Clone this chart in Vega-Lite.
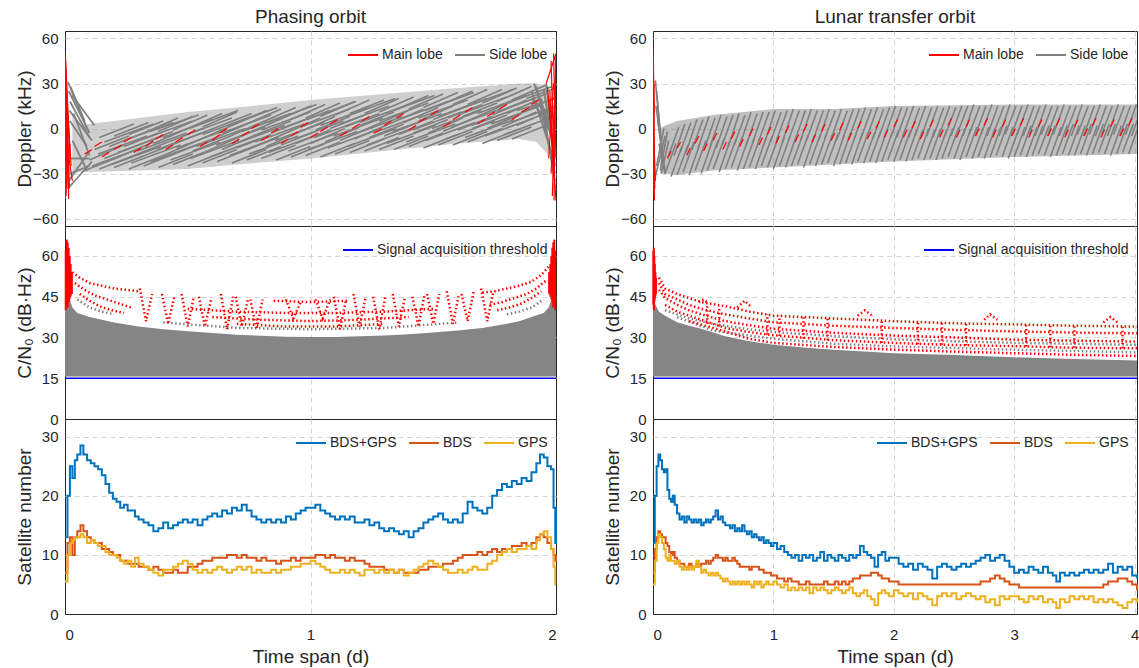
{
"$schema": "https://vega.github.io/schema/vega-lite/v6.json",
"padding": {"left": 14, "top": 7, "right": 0, "bottom": 0},
"config": {
  "font": "Liberation Sans",
  "view": {"stroke": "#262626", "strokeWidth": 1},
  "scale": {"continuousPadding": 0},
  "axis": {"grid": true, "gridColor": "#d4d4d4", "gridDash": [5, 4], "gridWidth": 1, "domain": false, "ticks": false, "labelFontSize": 15, "labelColor": "#262626", "titleFontSize": 19, "titleFontWeight": "normal", "titleColor": "#262626"},
  "axisY": {"labelPadding": 7, "titleX": -31},
  "axisX": {"labelPadding": 13, "titleY": 33, "format": "d"},
  "legend": {"orient": "top-right", "direction": "horizontal", "labelFontSize": 14, "labelColor": "#262626", "labelLimit": 300, "symbolType": "stroke", "symbolStrokeWidth": 2, "symbolSize": 900, "labelOffset": 3, "columnPadding": 8, "padding": 0, "offset": 8},
  "title": {"fontSize": 19, "fontWeight": "normal", "color": "#262626"}
},
"spacing": 41,
"resolve": {"scale": {"color": "independent"}, "legend": {"color": "independent"}},
"hconcat": [
 {
  "spacing": 0,
  "bounds": "flush",
  "resolve": {"scale": {"color": "independent"}, "legend": {"color": "independent"}},
  "vconcat": [
   {
    "width": 491, "height": 195,
    "title": {"text": "Phasing orbit", "frame": "group", "offset": 4},
    "encoding": {
      "x": {"field": "t", "type": "quantitative", "scale": {"domain": [0, 2], "nice": false, "padding": 0}, "axis": {"values": [0, 1, 2], "labels": false, "title": null, "gridOpacity": {"condition": {"test": "datum.value == 0 || datum.value == 2", "value": 0}, "value": 1}}},
      "y": {"field": "d", "type": "quantitative", "scale": {"domain": [-65, 65], "nice": false, "padding": 0}, "axis": {"values": [-60, -30, 0, 30, 60], "title": "Doppler (kHz)"}}
    },
    "layer": [
     {
      "data": {"values": "t,d,e\n0.03,-31,10\n0.06,-29,2\n0.1,-29,3\n0.3,-28,7\n0.5,-27,11\n0.7,-24,14\n1.0,-20,19\n1.3,-15,23\n1.6,-10,27\n1.85,-7,30\n1.92,-9,30\n1.97,-18,28", "format": {"type": "csv", "parse": {"t": "number", "d": "number", "e": "number"}}},
      "mark": {"type": "area", "color": "#808080", "opacity": 0.38},
      "encoding": {"y2": {"field": "e"}}
     },
     {
      "data": {"values": "t,u,d,e\n0.08,0.22,-28,-19\n0.10,0.24,-21,-11\n0.12,0.26,-14,-5\n0.14,0.28,-6,3\n0.14,0.28,-27,-18\n0.16,0.30,-20,-11\n0.18,0.32,-12,-3\n0.20,0.34,-5,4\n0.20,0.34,-26,-17\n0.22,0.36,-19,-9\n0.24,0.38,-12,-3\n0.26,0.40,-4,5\n0.26,0.40,-27,-18\n0.28,0.42,-18,-9\n0.30,0.44,-11,-2\n0.32,0.46,-3,7\n0.32,0.46,-25,-16\n0.34,0.48,-17,-8\n0.36,0.50,-10,0\n0.38,0.52,-2,8\n0.38,0.52,-26,-17\n0.40,0.54,-18,-8\n0.42,0.56,-9,0\n0.44,0.58,-1,9\n0.44,0.58,-24,-15\n0.46,0.60,-16,-7\n0.48,0.62,-8,1\n0.50,0.64,0,10\n0.50,0.64,-25,-16\n0.52,0.66,-15,-6\n0.54,0.68,-8,2\n0.56,0.70,1,11\n0.56,0.70,-23,-14\n0.58,0.72,-15,-5\n0.60,0.74,-7,3\n0.62,0.76,1,10\n0.62,0.76,-22,-13\n0.64,0.78,-14,-4\n0.66,0.80,-6,4\n0.68,0.82,2,12\n0.68,0.82,-23,-14\n0.70,0.84,-13,-4\n0.72,0.86,-5,5\n0.74,0.88,3,13\n0.74,0.88,-21,-12\n0.76,0.90,-13,-3\n0.78,0.92,-4,5\n0.80,0.94,4,14\n0.80,0.94,-20,-11\n0.82,0.96,-12,-2\n0.84,0.98,-3,6\n0.86,1.00,5,15\n0.86,1.00,-21,-12\n0.88,1.02,-11,-2\n0.90,1.04,-3,7\n0.92,1.06,6,16\n0.92,1.06,-19,-10\n0.94,1.08,-10,-1\n0.96,1.10,-2,8\n0.98,1.12,7,17\n0.98,1.12,-18,-9\n1.00,1.14,-10,0\n1.02,1.16,-1,8\n1.04,1.18,8,18\n1.04,1.18,-19,-10\n1.06,1.20,-9,1\n1.08,1.22,0,9\n1.10,1.24,9,19\n1.10,1.24,-17,-8\n1.12,1.26,-8,2\n1.14,1.28,1,10\n1.16,1.30,10,19\n1.16,1.30,-16,-7\n1.18,1.32,-7,3\n1.20,1.34,2,11\n1.22,1.36,10,20\n1.22,1.36,-15,-6\n1.24,1.38,-6,3\n1.26,1.40,2,12\n1.28,1.42,11,21\n1.28,1.42,-14,-5\n1.30,1.44,-5,4\n1.32,1.46,3,13\n1.34,1.48,12,22\n1.34,1.48,-14,-5\n1.36,1.50,-4,5\n1.38,1.52,4,14\n1.40,1.54,13,23\n1.40,1.54,-12,-3\n1.42,1.56,-3,6\n1.44,1.58,5,15\n1.46,1.60,14,24\n1.46,1.60,-13,-4\n1.48,1.62,-3,7\n1.50,1.64,6,15\n1.52,1.66,15,25\n1.52,1.66,-11,-2\n1.54,1.68,-2,8\n1.56,1.70,7,16\n1.58,1.72,16,26\n1.58,1.72,-11,-2\n1.60,1.74,-1,8\n1.62,1.76,8,17\n1.64,1.78,16,26\n1.64,1.78,-9,0\n1.66,1.80,0,9\n1.68,1.82,8,18\n1.70,1.84,17,27\n1.70,1.84,-10,-1\n1.72,1.86,0,10\n1.74,1.88,9,19\n1.76,1.90,18,28\n1.76,1.90,-8,1\n1.78,1.92,1,11\n1.80,1.94,10,20\n1.82,1.96,19,29\n1.82,1.96,-7,2\n1.84,1.98,2,12\n1.86,2.00,11,21\n1.88,2.00,20,27\n0.11,0.31,-25,-13\n0.135,0.335,-17,-5\n0.16,0.36,-9,3\n0.19,0.39,-24,-12\n0.215,0.415,-16,-4\n0.24,0.44,-8,4\n0.27,0.47,-23,-11\n0.295,0.495,-15,-3\n0.32,0.52,-7,5\n0.345,0.545,-2,9\n0.35,0.55,-22,-10\n0.375,0.575,-14,-2\n0.40,0.60,-6,6\n0.43,0.63,-21,-9\n0.455,0.655,-13,-1\n0.48,0.68,-5,7\n0.505,0.705,0,12\n0.51,0.71,-20,-8\n0.535,0.735,-12,0\n0.56,0.76,-4,8\n0.59,0.79,-19,-7\n0.615,0.815,-11,1\n0.64,0.84,-3,9\n0.665,0.865,2,14\n0.67,0.87,-18,-6\n0.695,0.895,-10,2\n0.72,0.92,-2,10\n0.75,0.95,-17,-5\n0.775,0.975,-9,3\n0.80,1.00,-1,11\n0.825,1.025,4,16\n0.83,1.03,-16,-4\n0.855,1.055,-8,4\n0.88,1.08,0,12\n0.91,1.11,-15,-3\n0.935,1.135,-7,5\n0.96,1.16,1,13\n0.985,1.185,6,18\n0.99,1.19,-14,-2\n1.015,1.215,-6,6\n1.04,1.24,2,14\n1.07,1.27,-13,-1\n1.095,1.295,-5,7\n1.12,1.32,3,15\n1.145,1.345,8,20\n1.15,1.35,-12,0\n1.175,1.375,-4,8\n1.20,1.40,4,16\n1.23,1.43,-11,1\n1.255,1.455,-3,9\n1.28,1.48,5,17\n1.305,1.505,10,22\n1.31,1.51,-10,2\n1.335,1.535,-2,10\n1.36,1.56,6,18\n1.39,1.59,-9,3\n1.415,1.615,-1,11\n1.44,1.64,7,19\n1.465,1.665,12,24\n1.47,1.67,-8,4\n1.495,1.695,0,12\n1.52,1.72,8,20\n1.55,1.75,-7,5\n1.575,1.775,1,13\n1.60,1.80,9,21\n1.625,1.825,14,26\n1.63,1.83,-6,6\n1.655,1.855,2,14\n1.68,1.88,10,22\n1.71,1.91,-5,7\n1.735,1.935,3,15\n1.76,1.96,11,23\n1.785,1.985,16,28\n1.79,1.99,-4,8\n1.815,2.0,4,15\n1.84,2.0,12,20\n0.012,0.09,31,0\n0.015,0.10,25,-3\n0.02,0.10,18,-6\n0.018,0.11,12,-8\n0.02,0.09,5,-12\n0.015,0.10,-35,-15\n0.012,0.11,-40,-22\n0.02,0.10,-30,-25\n0.025,0.10,-20,-20\n0.03,0.12,22,2\n0.022,0.08,28,5\n0.03,0.09,-8,-28\n0.035,0.10,10,-18\n1.90,1.99,25,-20\n1.92,1.995,28,-30\n1.93,1.99,22,-10\n1.91,1.98,30,0\n1.94,1.995,20,-35\n1.95,1.99,26,-15\n1.90,1.97,20,10\n1.96,1.995,30,-25\n1.92,1.985,15,-5", "format": {"type": "csv", "parse": {"t": "number", "u": "number", "d": "number", "e": "number"}}},
      "mark": {"type": "rule", "strokeWidth": 1.8, "clip": true},
      "encoding": {"x2": {"field": "u"}, "y2": {"field": "e"}, "color": {"datum": "Side lobe", "type": "nominal", "scale": {"domain": ["Main lobe", "Side lobe"], "range": ["#ff0000", "#808080"]}, "legend": {"title": null}}}
     },
     {
      "data": {"values": "t,u,d,e\n0.000,0.004,50,-45\n0.002,0.008,48,-40\n0.004,0.012,40,-30\n0.006,0.015,30,-47\n0.008,0.018,20,-40\n0.002,0.02,-45,-10\n0.01,0.025,10,-25\n0.003,0.01,45,0\n0.012,0.03,-15,-35\n0.005,0.022,35,-20\n0.001,0.006,-47,30\n1.96,2.0,30,50\n1.97,2.0,20,-48\n1.98,1.995,45,-40\n1.985,2.0,-45,35\n1.975,1.99,25,-30\n1.99,2.0,50,-20\n1.965,1.985,28,-10\n1.98,2.0,-30,40\n1.992,1.999,-48,48\n1.97,1.99,-20,30\n0.08,0.11,-17,-14\n0.12,0.15,-12,-9\n0.15,0.18,-19,-16\n0.2,0.23,-14,-11\n0.24,0.27,-9,-6\n0.28,0.31,-16,-13\n0.33,0.36,-12,-8\n0.37,0.4,-7,-4\n0.41,0.44,-14,-11\n0.45,0.48,-9,-6\n0.5,0.53,-4,-1\n0.55,0.58,-12,-9\n0.6,0.63,-8,-4\n0.63,0.66,-3,0\n0.68,0.71,-10,-7\n0.72,0.75,-5,-2\n0.76,0.79,0,3\n0.8,0.83,-8,-5\n0.84,0.87,-3,0\n0.88,0.91,-10,-7\n0.92,0.95,-5,-2\n0.96,0.99,1,4\n1.0,1.03,-6,-3\n1.04,1.07,-2,1\n1.08,1.11,3,6\n1.12,1.15,-5,-2\n1.17,1.2,0,3\n1.21,1.24,5,8\n1.26,1.29,-3,0\n1.3,1.33,2,5\n1.35,1.38,7,10\n1.4,1.43,-1,2\n1.44,1.47,4,7\n1.49,1.52,9,12\n1.54,1.57,1,4\n1.58,1.61,6,9\n1.63,1.66,11,14\n1.68,1.71,3,6\n1.72,1.75,8,11\n1.77,1.8,13,16\n1.82,1.85,6,9\n1.86,1.89,11,14\n1.9,1.93,16,19", "format": {"type": "csv", "parse": {"t": "number", "u": "number", "d": "number", "e": "number"}}},
      "mark": {"type": "rule", "strokeWidth": 1.2, "clip": true},
      "encoding": {"x2": {"field": "u"}, "y2": {"field": "e"}, "color": {"datum": "Main lobe", "type": "nominal", "scale": {"domain": ["Main lobe", "Side lobe"], "range": ["#ff0000", "#808080"]}, "legend": {"title": null}}}
     }
    ]
   },
   {
    "width": 491, "height": 193,
    "encoding": {
      "x": {"field": "t", "type": "quantitative", "scale": {"domain": [0, 2], "nice": false, "padding": 0}, "axis": {"values": [0, 1, 2], "labels": false, "title": null, "gridOpacity": {"condition": {"test": "datum.value == 0 || datum.value == 2", "value": 0}, "value": 1}}},
      "y": {"field": "v", "type": "quantitative", "scale": {"domain": [0, 71], "nice": false, "padding": 0}, "axis": {"values": [0, 15, 30, 45, 60], "title": "C/N₀ (dB·Hz)", "gridOpacity": {"condition": {"test": "datum.value == 0", "value": 0}, "value": 1}}}
    },
    "layer": [
     {
      "data": {"values": "t,v\n0.000,40\n0.010,47\n0.020,44\n0.030,41\n0.050,39\n0.100,37.5\n0.150,36.5\n0.200,35.5\n0.300,34\n0.400,33\n0.500,32.3\n0.600,31.6\n0.700,31\n0.800,30.6\n0.900,30.3\n1.000,30.2\n1.100,30.2\n1.200,30.4\n1.300,30.7\n1.400,31.2\n1.500,31.8\n1.600,32.6\n1.700,33.5\n1.800,35\n1.850,36\n1.900,37.5\n1.950,39\n1.970,41\n1.985,45\n2.000,40", "format": {"type": "csv", "parse": {"t": "number", "v": "number"}}},
      "mark": {"type": "area", "color": "#858585"},
      "encoding": {"y2": {"datum": 15.6}}
     },
     {
      "data": {"values": "g,t,v\nG1,0.05,44\nG1,0.1,41\nG1,0.15,39.5\nG1,0.2,38.5\nG2,1.95,44\nG2,1.9,41\nG2,1.85,39.5\nG2,1.8,38.5\nG3,0.4,35.5\nG3,0.7,33.5\nG3,1.0,33\nG3,1.3,33.5\nG3,1.6,35.5", "format": {"type": "csv", "parse": {"t": "number", "v": "number"}}},
      "mark": {"type": "line", "color": "#808080", "strokeWidth": 2.5, "strokeDash": [1.5, 2.5]},
      "encoding": {"detail": {"field": "g"}}
     },
     {
      "data": {"values": "g,t,v\nA1,0.03,54\nA1,0.06,52\nA1,0.1,50\nA1,0.15,49\nA1,0.2,48\nA1,0.25,47.5\nA1,0.3,47\nA2,0.04,50\nA2,0.08,47.5\nA2,0.12,45.5\nA2,0.17,44\nA2,0.22,42.5\nA2,0.27,41\nA3,0.06,46\nA3,0.1,43.5\nA3,0.14,41.5\nA3,0.19,40\nA3,0.24,39\nB1,1.97,56\nB1,1.94,53\nB1,1.9,50.5\nB1,1.85,49\nB1,1.8,48\nB1,1.75,47\nB1,1.7,46.5\nB2,1.96,51\nB2,1.92,48\nB2,1.88,46\nB2,1.83,44.5\nB2,1.78,43\nB2,1.73,42\nB3,1.94,47\nB3,1.9,44.5\nB3,1.86,42.5\nB3,1.81,41\nB3,1.76,40\nH2,0.5,40.5\nH2,0.7,39.5\nH2,0.9,39\nH2,1.1,39\nH2,1.3,39.5\nH2,1.5,40.5\nH3,0.6,37.5\nH3,0.8,36.5\nH3,1.0,36\nH3,1.2,36.5\nH3,1.4,37.5\nH4,0.7,35\nH4,0.9,34\nH4,1.1,34\nH4,1.3,35\nH5,0.85,43.5\nH5,1.0,43\nH5,1.15,43.5\nV1,0.305,48\nV1,0.33,36\nV1,0.355,46\nV2,0.395,46\nV2,0.42,35\nV2,0.445,45\nV3,0.475,46\nV3,0.5,34\nV3,0.525,45\nV4,0.545,45\nV4,0.57,34\nV4,0.595,44\nV5,0.635,46\nV5,0.66,33\nV5,0.685,45\nV6,0.695,45\nV6,0.72,34\nV6,0.745,44\nV7,0.755,44\nV7,0.78,33\nV7,0.805,44\nV8,1.095,45\nV8,1.12,33\nV8,1.145,44\nV9,1.175,46\nV9,1.2,34\nV9,1.225,45\nV10,1.255,45\nV10,1.28,33\nV10,1.305,45\nV11,1.335,46\nV11,1.36,34\nV11,1.385,45\nV12,1.415,45\nV12,1.44,34\nV12,1.465,46\nV13,1.475,46\nV13,1.5,35\nV13,1.525,46\nV14,1.555,47\nV14,1.58,35\nV14,1.605,46\nV15,1.615,46\nV15,1.64,36\nV15,1.665,47\nV16,1.695,48\nV16,1.72,36\nV16,1.745,47\nV17,0.9,44\nV17,0.93,37\nV17,0.96,43\nV18,1.02,44\nV18,1.05,37\nV18,1.08,44", "format": {"type": "csv", "parse": {"t": "number", "v": "number"}}},
      "mark": {"type": "line", "color": "#ff0000", "strokeWidth": 2.5, "strokeDash": [1.5, 2.5]},
      "encoding": {"detail": {"field": "g"}}
     },
     {
      "data": {"values": "t,v,w\n0.003,40,62\n0.007,42,66\n0.011,41,65\n0.015,43,63\n0.019,44,60\n0.023,45,57\n0.028,46,54\n1.997,40,62\n1.993,42,66\n1.989,41,65\n1.985,43,63\n1.981,44,60\n1.977,45,57\n1.972,46,54", "format": {"type": "csv", "parse": {"t": "number", "v": "number", "w": "number"}}},
      "mark": {"type": "rule", "color": "#ff0000", "strokeWidth": 2},
      "encoding": {"y2": {"field": "w"}}
     },
     {
      "data": {"values": [{"t": 0, "u": 2, "v": 15}]},
      "mark": {"type": "rule", "strokeWidth": 1.5},
      "encoding": {"x2": {"field": "u"}, "color": {"datum": "Signal acquisition threshold", "type": "nominal", "scale": {"range": ["#0000ff"]}, "legend": {"title": null}}}
     }
    ]
   },
   {
    "width": 491, "height": 195,
    "data": {"values": "t,a,b,g\n0.000,13,7,5.5\n0.010,20,12,10\n0.020,25,13,12\n0.030,23,10,12.5\n0.040,26,13,13\n0.050,27,14,13\n0.063,28.5,15,13.5\n0.075,27,14,13\n0.090,26,13,12\n0.105,25.5,12.5,12.5\n0.120,25,12,12\n0.135,24.5,12,11.5\n0.150,23.5,11,11.5\n0.165,22,11,10.5\n0.180,20.5,10.5,10\n0.195,19.5,10,10\n0.210,19,10,9.5\n0.225,18,9,9\n0.240,18.5,9,8.5\n0.255,17.5,8.5,9\n0.270,17.5,8.5,8\n0.285,16.5,8.5,9.5\n0.300,16,8,8.5\n0.320,15.5,8,8\n0.340,15,7.5,7.5\n0.360,14,8,7\n0.380,14.5,7.5,6.5\n0.400,15.5,7,7.5\n0.420,14.5,7,7.5\n0.440,15,7.5,8\n0.460,15.5,7,8.5\n0.480,16,7,9\n0.500,15.5,8,8.5\n0.520,16,8,7.5\n0.540,15,8.5,7\n0.560,16,9,7.5\n0.580,16.5,9,7\n0.600,17,9.5,7.5\n0.620,16.5,9.5,8\n0.640,17.5,9.5,7.5\n0.660,17,10,7\n0.680,18,10,7.5\n0.700,17.5,9.5,8\n0.720,18.5,10,7.5\n0.740,17.5,9.5,8\n0.760,16.5,9.5,7\n0.780,16,9,7.5\n0.800,15.5,9.5,7\n0.820,16,9,7\n0.840,15.5,9,7.5\n0.860,16,8.5,7\n0.880,15.5,9,7.5\n0.900,16.5,9,7.5\n0.920,16,9.5,8\n0.940,17,9,8\n0.960,17.5,9.5,8.5\n0.980,18,9.5,8.5\n1.000,18,9.5,9\n1.020,18.5,10,8.5\n1.040,17.5,10,8\n1.060,17,9.5,7.5\n1.080,16.5,10,7\n1.100,16,9.5,7\n1.120,16.5,9.5,7.5\n1.140,16,9,7\n1.160,16.5,9.5,7.5\n1.180,15.5,9,7\n1.200,15.5,9,6.5\n1.220,16,8.5,7.5\n1.240,15,8,7.5\n1.260,15.5,8,7\n1.280,14.5,8,7.5\n1.300,14,7.5,7\n1.320,14.5,7.5,7.5\n1.340,14,7,7\n1.360,13.5,7.5,7.5\n1.380,14,7,6.5\n1.400,13,7,7\n1.420,14,7,7.5\n1.440,14.5,7.5,8\n1.460,15.5,7.5,8.5\n1.480,16,8,9\n1.500,16.5,8,8.5\n1.520,17,8,8\n1.540,16,8.5,7.5\n1.560,15.5,8.5,7\n1.580,16,9,7\n1.600,15.5,9.5,7.5\n1.620,17,10,7\n1.640,19,10,7.5\n1.660,18,10,8\n1.680,17.5,10.5,7.5\n1.700,17,10,7.5\n1.720,18,10.5,8.5\n1.740,20,11,9\n1.760,21,10.5,10\n1.780,22,11,10.5\n1.800,21.5,11,11\n1.820,22.5,11.5,10.5\n1.840,22,11.5,11\n1.860,23,12,11\n1.880,22.5,11.5,11.5\n1.900,24,12,11\n1.920,25.5,13,12.5\n1.935,27,13.5,13.5\n1.950,26.5,13,14\n1.965,25,12,13\n1.980,24.5,11,11\n1.990,18,10,8\n1.997,12,9,5\n2.000,18,10,5", "format": {"type": "csv", "parse": {"t": "number", "a": "number", "b": "number", "g": "number"}}},
    "transform": [{"fold": ["a", "b", "g"], "as": ["k", "v"]}],
    "mark": {"type": "line", "strokeWidth": 2, "interpolate": "step-after"},
    "encoding": {
      "x": {"field": "t", "type": "quantitative", "scale": {"domain": [0, 2], "nice": false, "padding": 0}, "axis": {"values": [0, 1, 2], "title": "Time span (d)", "gridOpacity": {"condition": {"test": "datum.value == 0 || datum.value == 2", "value": 0}, "value": 1}}},
      "y": {"field": "v", "type": "quantitative", "scale": {"domain": [0, 33], "nice": false, "padding": 0}, "axis": {"values": [0, 10, 20, 30], "title": "Satellite number", "gridOpacity": {"condition": {"test": "datum.value == 0", "value": 0}, "value": 1}}},
      "color": {"field": "k", "type": "nominal", "scale": {"domain": ["a", "b", "g"], "range": ["#0072bd", "#d95319", "#edb120"]}, "legend": {"title": null, "labelExpr": "datum.label == 'a' ? 'BDS+GPS' : datum.label == 'b' ? 'BDS' : 'GPS'"}}
    }
   }
  ]
 },
 {
  "spacing": 0,
  "bounds": "flush",
  "resolve": {"scale": {"color": "independent"}, "legend": {"color": "independent"}},
  "vconcat": [
   {
    "width": 484, "height": 195,
    "title": {"text": "Lunar transfer orbit", "frame": "group", "offset": 4},
    "encoding": {
      "x": {"field": "t", "type": "quantitative", "scale": {"domain": [0, 4.02], "nice": false, "padding": 0}, "axis": {"values": [0, 1, 2, 3, 4], "labels": false, "title": null, "gridOpacity": {"condition": {"test": "datum.value == 0", "value": 0}, "value": 1}}},
      "y": {"field": "d", "type": "quantitative", "scale": {"domain": [-65, 65], "nice": false, "padding": 0}, "axis": {"values": [-60, -30, 0, 30, 60], "title": "Doppler (kHz)"}}
    },
    "layer": [
     {
      "data": {"values": "t,d,e\n0.06,-30,0\n0.1,-30,2\n0.2,-31,5\n0.5,-28,9\n1.0,-26,13\n1.5,-24,13\n2.0,-22,15\n3.0,-19,16\n4.02,-17,16", "format": {"type": "csv", "parse": {"t": "number", "d": "number", "e": "number"}}},
      "mark": {"type": "area", "color": "#808080", "opacity": 0.5},
      "encoding": {"y2": {"field": "e"}}
     },
     {
      "data": {"values": "t,u,d,e\n0.02,0.06,32,-5\n0.03,0.07,25,-10\n0.025,0.08,15,-20\n0.04,0.1,5,-28\n0.02,0.1,-32,-5\n0.03,0.09,-25,0\n0.05,0.1,-10,-30\n0.06,0.12,-28,-2\n0.07,0.13,-30,-8\n0.10,0.19,-30,-10\n0.125,0.215,-19,1\n0.15,0.24,-32,-12\n0.175,0.265,-18,3\n0.20,0.29,-31,-11\n0.225,0.315,-16,4\n0.25,0.34,-29,-9\n0.275,0.365,-16,6\n0.30,0.39,-31,-10\n0.325,0.415,-14,6\n0.35,0.44,-28,-8\n0.375,0.465,-13,8\n0.40,0.49,-30,-9\n0.425,0.515,-14,7\n0.45,0.54,-28,-8\n0.475,0.565,-12,9\n0.50,0.59,-27,-7\n0.525,0.615,-13,8\n0.55,0.64,-29,-8\n0.575,0.665,-11,9\n0.60,0.69,-27,-7\n0.625,0.715,-12,10\n0.65,0.74,-26,-6\n0.675,0.765,-11,9\n0.70,0.79,-28,-7\n0.725,0.815,-10,11\n0.75,0.84,-27,-7\n0.775,0.865,-11,10\n0.80,0.89,-26,-6\n0.825,0.915,-10,11\n0.85,0.94,-27,-6\n0.875,0.965,-9,11\n0.90,0.99,-25,-5\n0.925,1.015,-10,12\n0.95,1.04,-26,-6\n0.975,1.065,-9,11\n1.00,1.09,-27,-6\n1.025,1.115,-8,12\n1.05,1.14,-25,-5\n1.075,1.165,-9,13\n1.10,1.19,-26,-5\n1.125,1.215,-8,12\n1.15,1.24,-25,-5\n1.175,1.265,-9,12\n1.20,1.29,-24,-4\n1.225,1.315,-8,13\n1.25,1.34,-26,-5\n1.275,1.365,-8,12\n1.30,1.39,-24,-4\n1.325,1.415,-9,12\n1.35,1.44,-25,-4\n1.375,1.465,-8,13\n1.40,1.49,-24,-4\n1.425,1.515,-7,12\n1.45,1.54,-23,-3\n1.475,1.565,-8,13\n1.50,1.59,-25,-4\n1.525,1.615,-8,12\n1.55,1.64,-24,-3\n1.575,1.665,-7,13\n1.60,1.69,-23,-3\n1.625,1.715,-7,13\n1.65,1.74,-24,-3\n1.675,1.765,-6,14\n1.70,1.79,-22,-2\n1.725,1.815,-7,13\n1.75,1.84,-23,-3\n1.775,1.865,-6,14\n1.80,1.89,-22,-2\n1.825,1.915,-7,13\n1.85,1.94,-23,-2\n1.875,1.965,-6,14\n1.90,1.99,-22,-2\n1.925,2.015,-5,15\n1.95,2.04,-21,-1\n1.975,2.065,-6,14\n2.00,2.09,-22,-2\n2.025,2.115,-6,14\n2.05,2.14,-21,-1\n2.075,2.165,-5,15\n2.10,2.19,-22,-1\n2.125,2.215,-6,14\n2.15,2.24,-21,-1\n2.175,2.265,-5,15\n2.20,2.29,-20,0\n2.225,2.315,-6,14\n2.25,2.34,-21,-1\n2.275,2.365,-5,15\n2.30,2.39,-20,0\n2.325,2.415,-6,14\n2.35,2.44,-21,-1\n2.375,2.465,-5,15\n2.40,2.49,-20,0\n2.425,2.515,-5,14\n2.45,2.54,-19,1\n2.475,2.565,-5,15\n2.50,2.59,-20,0\n2.525,2.615,-4,15\n2.55,2.64,-21,0\n2.575,2.665,-5,16\n2.60,2.69,-19,1\n2.625,2.715,-4,15\n2.65,2.74,-20,0\n2.675,2.765,-5,15\n2.70,2.79,-19,1\n2.725,2.815,-4,16\n2.75,2.84,-20,0\n2.775,2.865,-5,15\n2.80,2.89,-19,1\n2.825,2.915,-4,15\n2.85,2.94,-18,2\n2.875,2.965,-5,16\n2.90,2.99,-19,1\n2.925,3.015,-4,15\n2.95,3.04,-20,0\n2.975,3.065,-5,15\n3.00,3.09,-19,1\n3.025,3.115,-4,16\n3.05,3.14,-18,2\n3.075,3.165,-5,15\n3.10,3.19,-19,1\n3.125,3.215,-4,15\n3.15,3.24,-18,2\n3.175,3.265,-5,16\n3.20,3.29,-17,2\n3.225,3.315,-4,15\n3.25,3.34,-18,2\n3.275,3.365,-5,15\n3.30,3.39,-19,1\n3.325,3.415,-4,16\n3.35,3.44,-18,2\n3.375,3.465,-5,15\n3.40,3.49,-17,3\n3.425,3.515,-4,15\n3.45,3.54,-18,2\n3.475,3.565,-5,16\n3.50,3.59,-18,2\n3.525,3.615,-4,15\n3.55,3.64,-17,3\n3.575,3.665,-5,15\n3.60,3.69,-18,2\n3.625,3.715,-4,16\n3.65,3.74,-17,3\n3.675,3.765,-5,15\n3.70,3.79,-16,3\n3.725,3.815,-4,15\n3.75,3.84,-17,3\n3.775,3.865,-5,16\n3.80,3.89,-18,2\n3.825,3.915,-4,15\n3.85,3.94,-17,3\n3.875,3.965,-5,15\n3.90,3.99,-16,3\n3.925,4.015,-4,16\n3.95,4.04,-17,3\n3.975,4.065,-5,15", "format": {"type": "csv", "parse": {"t": "number", "u": "number", "d": "number", "e": "number"}}},
      "mark": {"type": "rule", "strokeWidth": 1.6, "clip": true},
      "encoding": {"x2": {"field": "u"}, "y2": {"field": "e"}, "color": {"datum": "Side lobe", "type": "nominal", "scale": {"domain": ["Main lobe", "Side lobe"], "range": ["#ff0000", "#808080"]}, "legend": {"title": null}}}
     },
     {
      "data": {"values": "t,u,d,e\n0.0,0.005,55,-20\n0.003,0.012,40,-48\n0.005,0.015,20,-40\n0.008,0.02,-10,-35\n0.002,0.01,50,10\n0.001,0.008,-45,30\n0.12,0.15,-20,-15\n0.2,0.23,-13,-9\n0.28,0.31,-18,-13\n0.35,0.38,-10,-5\n0.42,0.45,-15,-10\n0.5,0.53,-8,-3\n0.58,0.61,-14,-9\n0.65,0.68,-7,-2\n0.72,0.75,-12,-7\n0.8,0.83,-5,0\n0.88,0.91,-11,-6\n0.95,0.98,-4,1\n1.02,1.05,-10,-5\n1.1,1.13,-3,2\n1.18,1.21,-9,-4\n1.25,1.28,-2,3\n1.32,1.35,-9,-4\n1.4,1.43,-2,3\n1.48,1.51,-8,-3\n1.55,1.58,-1,4\n1.62,1.65,-8,-3\n1.7,1.73,0,5\n1.78,1.81,-7,-2\n1.85,1.88,0,5\n1.92,1.95,-6,-1\n2.0,2.03,1,6\n2.08,2.11,-6,-1\n2.15,2.18,0,5\n2.22,2.25,-7,-2\n2.3,2.33,1,6\n2.38,2.41,-6,-1\n2.45,2.48,2,7\n2.52,2.55,-6,-1\n2.6,2.63,1,6\n2.68,2.71,-5,0\n2.75,2.78,2,7\n2.82,2.85,-6,-1\n2.9,2.93,1,6\n2.98,3.01,-5,0\n3.05,3.08,2,7\n3.12,3.15,-6,-1\n3.2,3.23,1,6\n3.28,3.31,-5,0\n3.35,3.38,2,7\n3.42,3.45,-6,-1\n3.5,3.53,1,6\n3.58,3.61,-5,0\n3.65,3.68,2,7\n3.72,3.75,-6,-1\n3.8,3.83,1,6\n3.88,3.91,-5,0\n3.95,3.98,2,7", "format": {"type": "csv", "parse": {"t": "number", "u": "number", "d": "number", "e": "number"}}},
      "mark": {"type": "rule", "strokeWidth": 1.2, "clip": true},
      "encoding": {"x2": {"field": "u"}, "y2": {"field": "e"}, "color": {"datum": "Main lobe", "type": "nominal", "scale": {"domain": ["Main lobe", "Side lobe"], "range": ["#ff0000", "#808080"]}, "legend": {"title": null}}}
     }
    ]
   },
   {
    "width": 484, "height": 193,
    "encoding": {
      "x": {"field": "t", "type": "quantitative", "scale": {"domain": [0, 4.02], "nice": false, "padding": 0}, "axis": {"values": [0, 1, 2, 3, 4], "labels": false, "title": null, "gridOpacity": {"condition": {"test": "datum.value == 0", "value": 0}, "value": 1}}},
      "y": {"field": "v", "type": "quantitative", "scale": {"domain": [0, 71], "nice": false, "padding": 0}, "axis": {"values": [0, 15, 30, 45, 60], "title": "C/N₀ (dB·Hz)", "gridOpacity": {"condition": {"test": "datum.value == 0", "value": 0}, "value": 1}}}
    },
    "layer": [
     {
      "data": {"values": "t,v\n0.000,40\n0.008,45\n0.020,42\n0.050,39.5\n0.100,38\n0.200,35.6\n0.300,34.3\n0.400,33.2\n0.500,31.8\n0.600,30.4\n0.800,28.6\n1.000,27.3\n1.250,26.3\n1.500,25.5\n1.750,24.8\n2.000,24.2\n2.500,23.5\n3.000,22.7\n3.500,22.1\n4.020,21.5", "format": {"type": "csv", "parse": {"t": "number", "v": "number"}}},
      "mark": {"type": "area", "color": "#858585"},
      "encoding": {"y2": {"datum": 15.6}}
     },
     {
      "data": {"values": "g,t,v\nG1,0.1,40\nG1,0.3,37\nG1,0.5,35\nG1,0.8,33\nG1,1.0,32\nG1,1.5,30.5\nG1,2.0,29.3\nG1,2.5,28.6\nG1,3.0,28\nG1,4.02,27.3\nG2,0.2,37.5\nG2,0.5,32.5\nG2,1.0,29.5\nG2,1.5,27.7\nG2,2.0,26.7\nG2,3.0,25.5\nG2,4.02,24.5", "format": {"type": "csv", "parse": {"t": "number", "v": "number"}}},
      "mark": {"type": "line", "color": "#808080", "strokeWidth": 2.5, "strokeDash": [1.5, 2.5]},
      "encoding": {"detail": {"field": "g"}}
     },
     {
      "data": {"values": "g,t,v\nR1,0.05,52\nR1,0.1,48\nR1,0.2,46\nR1,0.3,44.5\nR1,0.4,43\nR1,0.6,41.5\nR1,0.8,39.5\nR1,1.0,38\nR1,1.5,37\nR1,2.0,36\nR1,2.5,35.2\nR1,3.0,34.8\nR1,3.5,34.3\nR1,4.02,34\nR2,0.05,50\nR2,0.1,46\nR2,0.2,44\nR2,0.3,42\nR2,0.4,40.5\nR2,0.6,38.5\nR2,0.8,37\nR2,1.0,35.6\nR2,1.5,34.3\nR2,2.0,33.5\nR2,2.5,32.8\nR2,3.0,32.2\nR2,3.5,31.8\nR2,4.02,31.5\nR3,0.05,47.5\nR3,0.1,44.5\nR3,0.2,42\nR3,0.3,40\nR3,0.4,38.5\nR3,0.6,36\nR3,0.8,34.5\nR3,1.0,33.2\nR3,1.5,31.7\nR3,2.0,30.7\nR3,2.5,30\nR3,3.0,29.2\nR3,3.5,28.8\nR3,4.02,28.5\nR4,0.1,42\nR4,0.2,39.5\nR4,0.3,38\nR4,0.4,36.5\nR4,0.6,33.5\nR4,0.8,32\nR4,1.0,30.8\nR4,1.5,29\nR4,2.0,28\nR4,2.5,27.2\nR4,3.0,26.8\nR4,3.5,26.2\nR4,4.02,26\nR5,0.3,36\nR5,0.5,33.5\nR5,0.8,29.5\nR5,1.0,28\nR5,1.5,26.5\nR5,2.0,25.5\nR5,2.5,24.8\nR5,3.0,24.2\nR5,3.5,23.6\nR5,4.02,23.2\nP1,0.7,41\nP1,0.76,43.5\nP1,0.82,41\nP2,1.7,38\nP2,1.76,40\nP2,1.82,38\nP3,2.75,36.5\nP3,2.8,38.5\nP3,2.86,36.5\nP4,3.74,35.5\nP4,3.8,37.5\nP4,3.86,35.5\nP5,0.38,43\nP5,0.42,44\nP5,0.46,42.5", "format": {"type": "csv", "parse": {"t": "number", "v": "number"}}},
      "mark": {"type": "line", "color": "#ff0000", "strokeWidth": 2.5, "strokeDash": [1.5, 2.5]},
      "encoding": {"detail": {"field": "g"}}
     },
     {
      "data": {"values": "t,v,w\n0.45,35,42.5\n0.55,34,41.5\n0.95,31,38.5\n1.05,30.5,38\n1.25,29.5,37.5\n1.45,29,37\n1.9,28,36\n2.2,27.5,35.5\n2.4,27.3,35.3\n2.6,27,35\n3.1,26.7,34.7\n3.3,26.4,34.5\n3.5,26.2,34.3\n3.9,26,34", "format": {"type": "csv", "parse": {"t": "number", "v": "number", "w": "number"}}},
      "mark": {"type": "rule", "color": "#ff0000", "strokeWidth": 2.5, "strokeDash": [1.5, 2.5]},
      "encoding": {"y2": {"field": "w"}}
     },
     {
      "data": {"values": "t,v,w\n0.003,42,62\n0.007,40,63\n0.011,43,60\n0.015,44,57\n0.02,45,54\n0.025,46,52", "format": {"type": "csv", "parse": {"t": "number", "v": "number", "w": "number"}}},
      "mark": {"type": "rule", "color": "#ff0000", "strokeWidth": 2},
      "encoding": {"y2": {"field": "w"}}
     },
     {
      "data": {"values": [{"t": 0, "u": 4.02, "v": 15}]},
      "mark": {"type": "rule", "strokeWidth": 1.5},
      "encoding": {"x2": {"field": "u"}, "color": {"datum": "Signal acquisition threshold", "type": "nominal", "scale": {"range": ["#0000ff"]}, "legend": {"title": null}}}
     }
    ]
   },
   {
    "width": 484, "height": 195,
    "data": {"values": "t,a,b,g\n0.000,12,7,5\n0.015,20,11,9\n0.030,25,13,12\n0.045,27,14,13.5\n0.060,26,13.5,13\n0.075,24.5,13,12\n0.090,24,13,11\n0.105,24.5,12,9.5\n0.120,21,11.5,9\n0.135,19.5,10.5,10\n0.150,19,10,9\n0.165,20,10.5,9\n0.180,18.5,9.5,8.5\n0.200,17,9,9\n0.220,16,8.5,8\n0.240,16.5,8.5,7.5\n0.260,15.5,8,8\n0.280,16.5,8,7.5\n0.300,16,8.5,8\n0.320,15.5,8,7.5\n0.340,16,8,8\n0.360,15.5,8.5,9\n0.380,16,8,8\n0.400,15,8.5,7\n0.420,15.5,8.5,7.5\n0.440,16,9,7\n0.460,15.5,8.5,6.5\n0.480,16,9,7\n0.500,16.5,9.5,6.5\n0.520,17.5,10,7\n0.540,16,9.5,6.5\n0.560,16.5,9.5,6\n0.580,15.5,9,5.5\n0.600,15,9.5,6\n0.620,15,9,5.5\n0.640,14.5,9,5\n0.660,15,9.5,5.5\n0.680,14,9,5\n0.700,14.5,8.5,5.5\n0.720,14,8,5\n0.740,15,8,5.5\n0.760,14,8,5\n0.780,13.5,8,5.5\n0.800,14,7.5,5\n0.820,13,8,4.5\n0.840,13.5,8,5.5\n0.860,13,8,5\n0.880,12.5,7.5,5.5\n0.900,13,7.5,4.5\n0.920,12,7,5\n0.940,12.5,7,5.5\n0.960,12,7,5\n0.980,11.5,6.5,5\n1.000,12,6.5,5.5\n1.030,11,6,5\n1.060,11.5,6,4.5\n1.090,10.5,5.5,5\n1.120,10,6,4\n1.150,9.5,5.5,4.5\n1.180,10,5.5,4\n1.210,9,5,4.5\n1.240,10,5,4\n1.270,9.5,5.5,4.5\n1.300,10,5,3.5\n1.330,9,5,4.5\n1.360,9.5,5,4\n1.390,10.5,5,4.5\n1.420,9,5.5,4\n1.450,10,5,3.5\n1.480,9.5,5,4\n1.510,9,5.5,4.5\n1.540,10,5,4\n1.570,9.5,5.5,3.5\n1.600,9,5,4\n1.630,10,5.5,4.5\n1.660,9.5,6,3.5\n1.690,10,6,3\n1.720,11.5,6.5,3.5\n1.750,10.5,6.5,4\n1.780,10,6.5,3\n1.810,9.5,7,2.5\n1.840,8,7,1.5\n1.870,10,6.5,3.5\n1.900,10.5,6,4\n1.930,9,6,3.5\n1.960,9.5,5.5,3\n2.000,9.5,5.5,4\n2.040,8.5,5,3.5\n2.080,8,5,3\n2.120,8.5,5,3.5\n2.160,7.5,5,2.5\n2.200,8.5,5,3.5\n2.240,8,5,3\n2.280,7.5,5,2.5\n2.320,6,5,1.5\n2.360,8,5,3\n2.400,8.5,5,3.5\n2.440,8,5,3\n2.480,7.5,5,3.5\n2.520,8,5,2.5\n2.560,8.5,5,3\n2.600,8,5,3.5\n2.640,8.5,5,3\n2.680,9,5,2.5\n2.720,9.5,5.5,3\n2.760,10,5.5,2\n2.800,9,6,2.5\n2.840,9.5,6.5,1.5\n2.880,10,6,3\n2.920,9,5.5,2.5\n2.960,8,5,3\n3.000,7,5,3\n3.040,7.5,4.5,2.5\n3.080,7,4.5,2\n3.120,8,4.5,3\n3.160,7.5,4.5,2.5\n3.200,7,4.5,3\n3.240,8,4.5,2\n3.280,7,4.5,2.5\n3.320,6.5,4.5,2\n3.350,5.5,4.5,1\n3.380,7,4.5,2.5\n3.420,6.5,4.5,2\n3.460,7,4.5,3\n3.500,6.5,4.5,2.5\n3.540,7,4.5,3\n3.580,7.5,4.5,2.5\n3.620,7,4.5,3\n3.660,7.5,4.5,2\n3.700,7,4.5,2.5\n3.740,7.5,5,2\n3.780,8.5,5.5,2.5\n3.820,7,5.5,2\n3.860,8,6,1.5\n3.900,7.5,6,1\n3.940,8,5.5,2\n3.980,6.5,5,2.5\n4.020,6,4,2", "format": {"type": "csv", "parse": {"t": "number", "a": "number", "b": "number", "g": "number"}}},
    "transform": [{"fold": ["a", "b", "g"], "as": ["k", "v"]}],
    "mark": {"type": "line", "strokeWidth": 2, "interpolate": "step-after"},
    "encoding": {
      "x": {"field": "t", "type": "quantitative", "scale": {"domain": [0, 4.02], "nice": false, "padding": 0}, "axis": {"values": [0, 1, 2, 3, 4], "title": "Time span (d)", "gridOpacity": {"condition": {"test": "datum.value == 0", "value": 0}, "value": 1}}},
      "y": {"field": "v", "type": "quantitative", "scale": {"domain": [0, 33], "nice": false, "padding": 0}, "axis": {"values": [0, 10, 20, 30], "title": "Satellite number", "gridOpacity": {"condition": {"test": "datum.value == 0", "value": 0}, "value": 1}}},
      "color": {"field": "k", "type": "nominal", "scale": {"domain": ["a", "b", "g"], "range": ["#0072bd", "#d95319", "#edb120"]}, "legend": {"title": null, "labelExpr": "datum.label == 'a' ? 'BDS+GPS' : datum.label == 'b' ? 'BDS' : 'GPS'"}}
    }
   }
  ]
 }
]
}
